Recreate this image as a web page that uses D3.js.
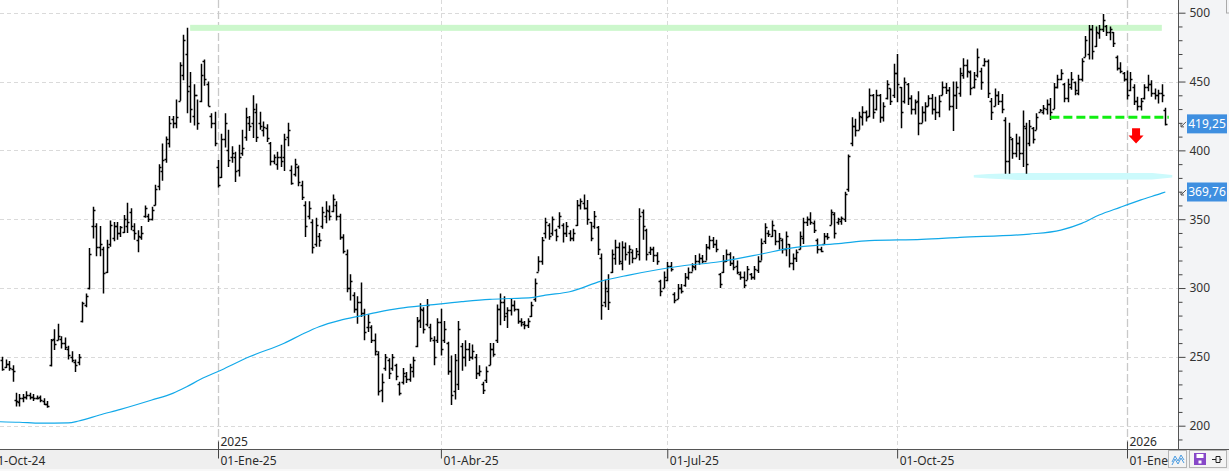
<!DOCTYPE html>
<html>
<head>
<meta charset="utf-8">
<script src="https://cdn.jsdelivr.net/npm/d3@7"></script>
<style>
    body { margin: 0; background: #fff; }
    svg { display: block; font-family: "Noto Sans", sans-serif; }
</style>
</head>
<body>
<svg id="chart" width="1229" height="471"></svg>
<script>

    // *** Chart data ***

    var calendarStart = new Date(2024, 9, 1); // weekday calendar, day 0 = 01-Oct-24
    var firstBarDay = 4;                       // first bar drawn is day 4 (07-Oct-24)

    var opens = [
        248,243,245,241,219,217,220,221,222,221, 220,221,218,216,244,263,262,263,260,256,
        250,246,246,276,288,300,345,345,330,328, 312,332,336,345,340,341,345,355,342,335,
        337,352,352,350,360,374,385,394,405,423, 420,436,455,470,447,425,440,436,465,448,
        425,420,388,381,408,400,395,395,386,398, 410,420,420,428,420,415,416,405,392,390,
        395,395,410,386,383,388,375,360,352,348, 332,338,345,352,356,356,360,352,337,325,
        300,295,285,290,282,272,272,262,252,226, 242,248,242,244,230,232,236,234,240,258,
        277,284,274,272,262,262,275,262,260,240, 225,230,258,250,256,250,250,238,230,233,
        244,256,262,285,290,282,284,288,285,276, 274,273,280,292,312,320,340,346,340,342,
        345,346,340,340,336,346,360,362,358,348, 345,344,322,290,298,312,322,330,318,330,
        326,326,322,325,355,342,326,328,324,305, 300,306,316,296,292,300,302,308,312,315,
        320,322,320,330,335,332,310,312,320,325, 318,316,310,308,306,310,308,313,320,334,
        340,338,342,334,335,328,332,318,322,328, 336,348,350,347,335,328,332,338,346,354,
        348,349,350,372,405,418,415,424,428,425, 440,430,440,424,438,445,440,456,446,436,
        448,438,430,436,420,428,432,438,430,428, 440,446,444,432,440,442,455,462,457,446,
        455,458,462,465,436,432,440,436,422,392, 408,398,405,398,416,405,416,415,428,428,
        430,434,430,446,452,448,438,446,450,442, 452,468,470,488,476,485,488,490,486,486,
        468,460,456,452,444,446,436,432,438,446, 448,442,440,442,429
    ];
    var highs = [
        250,248,247,244,224,223,223,225,224,223, 222,222,220,218,263,270,274,265,264,258,
        254,248,252,290,296,329,359,347,345,330, 335,349,348,348,345,353,362,358,347,342,
        345,360,354,359,375,390,405,410,425,425, 437,464,484,489,457,448,437,463,466,450,
        427,428,393,412,427,415,403,399,404,415, 431,425,440,434,428,421,419,406,397,399,
        404,412,420,389,394,389,378,363,363,350, 351,340,359,363,360,368,363,354,339,328,
        310,297,294,304,285,281,273,267,254,238, 252,249,252,245,232,242,239,245,250,279,
        289,286,292,274,265,278,285,276,261,251, 252,276,260,262,260,259,252,244,232,243,
        260,260,288,296,294,286,292,291,285,278, 276,278,290,307,323,337,351,347,352,343,
        355,347,348,342,343,364,365,368,364,348, 356,345,325,306,310,328,335,333,334,333,
        331,328,329,358,357,343,330,330,326,306, 312,319,319,297,303,303,311,315,318,324,
        325,324,332,338,337,335,311,324,328,326, 323,320,312,312,316,311,316,323,336,347,
        342,349,342,340,336,341,332,325,328,341, 351,352,355,349,336,330,340,340,357,355,
        351,352,370,397,424,423,428,432,429,445, 441,444,441,435,451,445,463,470,446,453,
        449,440,437,443,432,435,440,441,439,440, 450,449,446,450,450,460,467,466,458,457,
        474,460,467,466,438,445,443,441,424,420, 409,412,410,429,420,422,417,427,430,433,
        437,438,449,455,459,449,452,457,450,455, 467,483,491,491,490,491,499,491,490,486,
        469,464,457,458,457,448,439,438,448,455, 451,445,444,448,431
    ];
    var lows = [
        240,242,240,232,214,214,217,219,219,218, 219,217,215,213,243,255,262,256,255,248,
        246,239,244,275,286,299,336,323,323,296, 311,330,334,335,337,340,340,342,335,326,
        335,351,348,349,360,371,378,391,402,416, 416,436,451,427,420,418,415,435,447,432,
        416,403,373,380,402,388,391,377,381,396, 407,414,409,406,415,410,406,389,390,386,
        388,385,403,375,381,374,364,337,350,325, 330,330,343,347,349,355,349,335,325,297,
        291,282,274,279,262,268,260,251,222,217, 240,234,240,233,222,230,231,232,235,257,
        271,267,272,261,244,260,251,260,237,215, 219,226,240,243,247,248,234,236,223,231,
        244,250,260,273,276,271,280,283,274,272, 270,271,279,290,312,317,336,335,338,334,
        343,333,337,334,334,345,357,357,346,334, 343,324,277,286,284,311,317,317,313,320,
        317,318,322,320,335,320,324,319,317,294, 300,305,312,289,292,296,301,306,312,313,
        317,318,320,328,329,326,300,311,319,316, 313,310,306,300,306,306,306,311,320,332,
        337,337,331,328,325,323,315,313,319,328, 332,345,346,340,325,326,332,335,346,336,
        346,346,348,370,403,410,415,418,421,424, 423,429,420,421,437,433,438,435,416,434,
        433,426,426,411,420,421,432,426,422,424, 440,441,429,414,430,439,452,453,440,445,
        453,444,461,438,422,432,433,427,383,383, 394,395,393,388,383,403,405,415,428,426,
        426,422,430,445,451,435,435,444,440,440, 450,468,466,466,475,481,486,483,480,475,
        458,456,450,437,443,433,429,429,437,443, 439,437,434,435,418
    ];
    var closes = [
        241,245,242,240,218,220,221,222,221,220, 220,219,216,214,262,259,265,260,257,251,
        248,244,250,289,294,325,357,330,332,311, 330,346,345,340,344,350,348,345,340,338,
        340,358,350,357,372,388,393,408,420,420, 424,462,480,443,430,440,420,455,452,432,
        420,405,375,408,420,393,398,385,395,402, 424,418,430,410,418,417,409,392,395,395,
        392,408,415,376,390,377,366,345,358,330, 346,335,355,357,352,365,352,337,327,300,
        305,285,290,282,268,275,262,254,225,232, 250,238,250,236,224,238,234,243,248,276,
        285,270,288,264,250,275,256,270,240,222, 248,270,250,256,250,254,238,240,226,240,
        256,252,285,290,280,284,288,285,276,275, 273,276,288,304,320,335,348,338,350,338,
        352,340,345,336,340,360,363,358,350,336, 352,328,288,300,290,325,330,320,330,325,
        328,322,327,352,345,325,328,324,320,298, 308,316,314,291,300,298,308,312,316,320,
        322,320,330,335,332,328,303,320,325,318, 315,312,308,302,314,308,314,320,333,344,
        339,346,334,336,328,338,318,322,326,338, 348,350,348,342,328,327,338,337,355,340,
        350,351,368,396,418,415,425,428,424,440, 428,440,424,432,448,436,456,448,428,450,
        438,430,435,420,428,432,438,430,428,436, 446,444,432,440,446,456,462,458,445,452,
        468,450,465,442,428,440,436,430,392,410, 398,405,398,418,390,418,408,424,429,431,
        434,428,446,452,456,438,448,452,444,452, 465,480,488,472,486,488,495,486,488,478,
        460,458,452,440,452,436,432,436,446,448, 442,440,442,440,419.25
    ];

    // moving average, sampled along the blue line (calendar day, value)
    var maDays   = [3, 9, 15, 23, 26, 32, 38, 47, 53, 57, 61, 67, 75, 85, 90, 95, 101, 107, 112, 118,
                    127, 136, 144, 150, 156, 160, 167, 176, 184, 199, 210, 222, 230, 245, 253, 268, 279,
                    299, 308, 314, 319, 325, 331, 337, 338];
    var maValues = [202.9, 202.5, 201.8, 202.0, 203.4, 207.8, 211.9, 218.7, 223.5, 228.3, 233.7, 240.5,
                    250.1, 259.9, 266.2, 271.9, 276.5, 279.8, 282.5, 285.2, 287.7, 290.1, 291.8, 292.4,
                    293.0, 294.8, 297.3, 305.0, 309.4, 316.0, 319.1, 324.7, 328.8, 332.5, 334.4, 335.4,
                    336.8, 339.2, 342.1, 347.0, 353.0, 358.6, 364.0, 368.9, 369.76];

    var priceTicks = [200, 250, 300, 350, 400, 450, 500];
    var monthNames = ["Ene", "Feb", "Mar", "Abr", "May", "Jun", "Jul", "Ago", "Sep", "Oct", "Nov", "Dic"];
    var quarterStarts = ["2024-10-01", "2025-01-01", "2025-04-01", "2025-07-01", "2025-10-01", "2026-01-01"];
    var yearStarts = ["2025-01-01", "2026-01-01"];

    // drawn annotations: [level, from day, to day]
    var resistanceBand = [489, 58, 337];
    var supportBand = [381, 283, 340];
    var breakLine = [424, 305, 339];
    var arrowDay = 329.6, arrowTop = 416, arrowBottom = 405;

    var lastPrice = 419.25;
    var lastAverage = 369.76;

    // *** Calendar helpers ***

    function build_weekdays(start, end) {
        var days = [];
        for (var d = new Date(start); d <= end; d.setDate(d.getDate() + 1)) {
            if (d.getDay() !== 0 && d.getDay() !== 6) days.push(new Date(d));
        }
        return days;
    }
    var days = build_weekdays(calendarStart, new Date(2026, 1, 1));

    function day_index(text) {
        var p = text.split("-");
        var date = new Date(+p[0], +p[1] - 1, +p[2]);
        return days.findIndex(d => d >= date);
    }

    function format_day(i) {
        var d = days[i];
        return "01-" + monthNames[d.getMonth()] + "-" + String(d.getFullYear()).slice(2);
    }

    var bars = closes.map((c, i) => ({day: firstBarDay + i, o: opens[i], h: highs[i], l: lows[i], c: c}));
    var maData = maDays.map((d, i) => ({day: d, v: maValues[i]}));

    // *** D3 chart building ***

    var svg = d3.select("#chart");
    var W = +svg.attr("width"), H = +svg.attr("height");
    var plotRight = 1178, axisY = 449;

    var x = d3.scaleLinear()
        .domain([day_index("2025-01-01"), day_index("2026-01-01")])
        .range([218, 1127]);
    var y = d3.scaleLinear().domain([200, 500]).range([425.7, 12.7]);

    var esLocale = d3.formatLocale({decimal: ",", thousands: ".", grouping: [3], currency: ["", "€"]});
    var priceFormat = esLocale.format(".2f");

    // backgrounds
    svg.append("rect").attr("width", W).attr("height", H).attr("fill", "#fff");
    svg.append("rect").attr("x", plotRight).attr("y", 0).attr("width", W - plotRight).attr("height", axisY)
        .attr("fill", "#f3f4f6");
    svg.append("rect").attr("x", 0).attr("y", axisY).attr("width", W).attr("height", 20).attr("fill", "#efefef");
    svg.append("rect").attr("x", 0).attr("y", axisY + 20).attr("width", W).attr("height", H - axisY - 20)
        .attr("fill", "#f8f8f8");

    svg.append("clipPath").attr("id", "plotClip")
        .append("rect").attr("x", 0).attr("y", 0).attr("width", plotRight).attr("height", axisY);

    var plot = svg.append("g").attr("clip-path", "url(#plotClip)");

    // grid lines
    plot.selectAll(".hgrid").data(priceTicks).enter().append("line")
        .attr("class", "hgrid")
        .attr("x1", 0).attr("x2", plotRight)
        .attr("y1", d => Math.round(y(d)) + 0.5).attr("y2", d => Math.round(y(d)) + 0.5)
        .attr("stroke", "#dadada").attr("stroke-dasharray", "4,3");

    var quarterIdx = quarterStarts.map(day_index);
    var yearIdx = yearStarts.map(day_index);

    plot.selectAll(".vgrid").data(quarterIdx.filter(d => yearIdx.indexOf(d) < 0)).enter().append("line")
        .attr("class", "vgrid")
        .attr("x1", d => Math.round(x(d)) + 0.5).attr("x2", d => Math.round(x(d)) + 0.5)
        .attr("y1", 0).attr("y2", axisY)
        .attr("stroke", "#dadada").attr("stroke-dasharray", "4,3");

    plot.selectAll(".ygrid").data(yearIdx).enter().append("line")
        .attr("class", "ygrid")
        .attr("x1", d => Math.round(x(d)) + 0.5).attr("x2", d => Math.round(x(d)) + 0.5)
        .attr("y1", 0).attr("y2", axisY)
        .attr("stroke", "#c9c9c9").attr("stroke-width", 1.3).attr("stroke-dasharray", "8,3");

    // resistance band (green) and support band (light cyan)
    plot.append("rect")
        .attr("x", x(resistanceBand[1])).attr("width", x(resistanceBand[2]) - x(resistanceBand[1]))
        .attr("y", y(resistanceBand[0]) - 3).attr("height", 6)
        .attr("fill", "#ccf7cc");

    var sx0 = x(supportBand[1]), sx1 = x(supportBand[2]), sy = y(supportBand[0]);
    plot.append("path")
        .attr("d", "M" + sx0 + "," + (sy - 1.5) +
                   "L" + (sx0 + 15) + "," + (sy - 2.5) +
                   "L" + (sx0 + 45) + "," + (sy - 3.5) +
                   "L" + (sx1 - 20) + "," + (sy - 3.5) +
                   "L" + sx1 + "," + (sy - 1.5) +
                   "L" + sx1 + "," + (sy + 1) +
                   "L" + (sx1 - 20) + "," + (sy + 3) +
                   "L" + (sx0 + 45) + "," + (sy + 3.5) +
                   "L" + (sx0 + 15) + "," + (sy + 2) +
                   "L" + sx0 + "," + (sy + 1) + "Z")
        .attr("fill", "#ccfafc");

    // OHLC bars
    plot.selectAll(".bar").data(bars).enter().append("path")
        .attr("class", "bar")
        .attr("fill", "none")
        .attr("stroke", "#000")
        .attr("stroke-width", 1.5)
        .attr("d", function (d) {
            var bx = Math.round(x(d.day)) + 0.5;
            var yo = Math.round(y(d.o)) + 0.5, yc = Math.round(y(d.c)) + 0.5;
            return "M" + bx + "," + y(d.h) + "V" + y(d.l) +
                   "M" + (bx - 2) + "," + yo + "H" + bx +
                   "M" + bx + "," + yc + "H" + (bx + 2);
        });

    // moving average line
    var maLine = d3.line().x(d => x(d.day)).y(d => y(d.v)).curve(d3.curveMonotoneX);
    plot.append("path")
        .attr("d", maLine(maData))
        .attr("fill", "none")
        .attr("stroke", "#12a9e9")
        .attr("stroke-width", 1.2);

    // broken support (green dashes)
    plot.append("line")
        .attr("x1", x(breakLine[1])).attr("x2", x(breakLine[2]))
        .attr("y1", y(breakLine[0])).attr("y2", y(breakLine[0]))
        .attr("stroke", "#11ee11").attr("stroke-width", 3).attr("stroke-dasharray", "9,4");

    // red arrow down
    var ax = x(arrowDay), at = y(arrowTop), ab = y(arrowBottom), ah = 8;
    plot.append("path")
        .attr("d", "M" + (ax - 4) + "," + at + "H" + (ax + 4) + "V" + (ab - ah) + "H" + (ax + 7.5) +
                   "L" + ax + "," + ab + "L" + (ax - 7.5) + "," + (ab - ah) + "H" + (ax - 4) + "Z")
        .attr("fill", "#f00");

    // *** Axes ***

    svg.append("line").attr("x1", 0).attr("x2", W).attr("y1", axisY + 0.5).attr("y2", axisY + 0.5)
        .attr("stroke", "#555");
    svg.append("line").attr("x1", plotRight + 0.5).attr("x2", plotRight + 0.5).attr("y1", 0).attr("y2", axisY)
        .attr("stroke", "#555");

    // right price axis
    var minorTicks = d3.range(190, 511, 10).filter(v => v % 50 !== 0);
    var yMinor = svg.append("g").attr("transform", "translate(" + (plotRight + 0.5) + ",0)")
        .call(d3.axisRight(y).tickValues(minorTicks).tickSize(4).tickFormat(""));
    var yMajor = svg.append("g").attr("transform", "translate(" + (plotRight + 0.5) + ",0)")
        .call(d3.axisRight(y).tickValues(priceTicks).tickSize(7).tickPadding(4).tickFormat(d3.format("d")));
    [yMinor, yMajor].forEach(function (g) {
        g.select(".domain").remove();
        g.selectAll("line").attr("stroke", "#444");
    });
    yMajor.selectAll("text").attr("fill", "#333").style("font-size", "12px").style("font-family", "Noto Sans");

    // bottom date axis
    var xAxisG = svg.append("g").attr("transform", "translate(0," + (axisY + 0.5) + ")")
        .call(d3.axisBottom(x).tickValues(quarterIdx).tickSize(9).tickFormat(format_day));
    xAxisG.select(".domain").remove();
    xAxisG.selectAll("line").attr("stroke", "#444");
    xAxisG.selectAll("text")
        .attr("text-anchor", "start").attr("x", 2).attr("y", 7)
        .attr("fill", "#2b2b2b").style("font-size", "12px").style("font-family", "Noto Sans");

    // year markers above the axis
    var yearG = svg.append("g").attr("transform", "translate(0," + (axisY + 0.5) + ")")
        .call(d3.axisTop(x).tickValues(yearIdx).tickSize(8).tickFormat(d => String(days[d].getFullYear())));
    yearG.select(".domain").remove();
    yearG.selectAll("line").attr("stroke", "#444");
    yearG.selectAll("text")
        .attr("text-anchor", "start").attr("x", 2).attr("y", -4)
        .attr("fill", "#2b2b2b").style("font-size", "12px").style("font-family", "Noto Sans");

    // *** Last value labels on the price axis ***

    [lastPrice, lastAverage].forEach(function (v) {
        var cy = y(v);
        svg.append("path")
            .attr("d", "M" + (plotRight + 3) + "," + (cy + 3) + "L" + (plotRight + 8) + "," + (cy - 2) +
                       "M" + (plotRight + 3) + "," + (cy + 3) + "H" + (plotRight + 6) +
                       "M" + (plotRight + 3) + "," + (cy + 3) + "V" + cy)
            .attr("stroke", "#555").attr("fill", "none");
        svg.append("rect")
            .attr("x", 1187).attr("y", cy - 9.5).attr("width", 40).attr("height", 19)
            .attr("fill", "#3f8fe0");
        svg.append("text")
            .attr("x", 1207).attr("y", cy + 4.5)
            .attr("text-anchor", "middle")
            .attr("fill", "#fff").style("font-size", "12px")
            .text(priceFormat(v));
    });

    // *** Small tool buttons bottom right ***

    svg.append("rect").attr("x", 1226.5).attr("y", -1).attr("width", 6).attr("height", 14)
        .attr("fill", "#f3f4f6").attr("stroke", "#aaa");

    svg.append("rect").attr("x", 1168.5).attr("y", 450.5).attr("width", 18).attr("height", 17)
        .attr("fill", "#f4f4f4").attr("stroke", "#b5b5b5");
    svg.append("path")
        .attr("d", "M1172,462 L1175,456 L1178,461 L1181,455 L1184,460 M1172,465 L1175,459 L1178,464 L1181,458 L1184,463")
        .attr("stroke", "#4a9be0").attr("fill", "none").attr("stroke-width", 1);

    svg.append("rect").attr("x", 1189.5).attr("y", 450.5).attr("width", 37).attr("height", 17)
        .attr("fill", "#f4f4f4").attr("stroke", "#b5b5b5");
    svg.append("rect").attr("x", 1194).attr("y", 453).attr("width", 12).attr("height", 12).attr("fill", "#8748c8");
    svg.append("rect").attr("x", 1196.5).attr("y", 454).attr("width", 7).attr("height", 4).attr("fill", "#fff");
    svg.append("rect").attr("x", 1198.5).attr("y", 460.5).attr("width", 3).attr("height", 3).attr("fill", "#fff");
    svg.append("path")
        .attr("d", "M1212,459.5 H1216 M1216,456.5 V462.5 H1220 V456.5 Z M1220,459.5 H1222")
        .attr("stroke", "#222").attr("fill", "none");

</script>
</body>
</html>
